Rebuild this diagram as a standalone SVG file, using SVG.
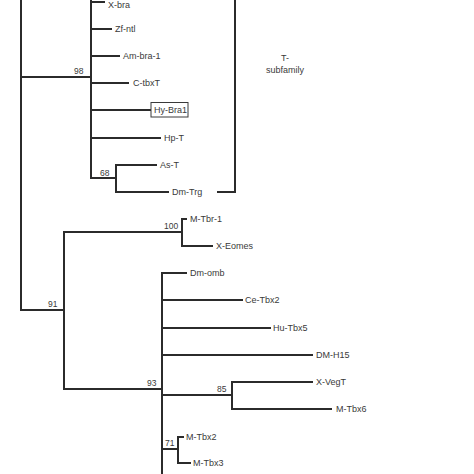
<svg xmlns="http://www.w3.org/2000/svg" width="474" height="474" viewBox="0 0 474 474">
<style>
.e{stroke:#2b2b2b;stroke-width:2;fill:none;stroke-linecap:square}
text{font-family:"Liberation Sans",Arial,sans-serif;font-size:9px;fill:#3a3a3a}
.b{font-size:8.5px}
.box{fill:#fff;stroke:#3a3a3a;stroke-width:1}
</style>
<rect width="474" height="474" fill="#fff"/>
<g id="connectors">
<path class="e" d="M21,-2V310"/>
<path class="e" d="M21,77H91"/>
<path class="e" d="M91,-2V178"/>
<path class="e" d="M91,2H104"/>
<path class="e" d="M91,29H111"/>
<path class="e" d="M91,56H119"/>
<path class="e" d="M91,83H128"/>
<path class="e" d="M91,110H150"/>
<path class="e" d="M91,138H160"/>
<path class="e" d="M91,178H116"/>
<path class="e" d="M116,165V192"/>
<path class="e" d="M116,165H156"/>
<path class="e" d="M116,192H168"/>
<path class="e" d="M218,192H235V-2"/>
<path class="e" d="M21,310H64"/>
<path class="e" d="M64,232V389"/>
<path class="e" d="M64,232H182"/>
<path class="e" d="M182,219V246"/>
<path class="e" d="M182,219H186"/>
<path class="e" d="M182,246H212"/>
<path class="e" d="M64,389H162"/>
<path class="e" d="M162,273V476"/>
<path class="e" d="M162,273H186"/>
<path class="e" d="M162,300H242"/>
<path class="e" d="M162,328H270"/>
<path class="e" d="M162,355H312"/>
<path class="e" d="M162,395H232"/>
<path class="e" d="M232,382V409"/>
<path class="e" d="M232,382H312"/>
<path class="e" d="M232,409H331"/>
<path class="e" d="M162,449H178"/>
<path class="e" d="M178,437V463"/>
<path class="e" d="M178,437H183"/>
<path class="e" d="M178,463H190"/>
</g>
<g id="support">
<text x="74" y="74" class="b">98</text>
<text x="100" y="176" class="b">68</text>
<text x="48" y="307" class="b">91</text>
<text x="164" y="229" class="b">100</text>
<text x="147" y="386" class="b">93</text>
<text x="217" y="392" class="b">85</text>
<text x="165" y="446" class="b">71</text>
</g>
<g id="X-bra"><text x="108" y="8">X-bra</text></g>
<g id="Zf-ntl"><text x="115" y="32">Zf-ntl</text></g>
<g id="Am-bra-1"><text x="123" y="59">Am-bra-1</text></g>
<g id="C-tbxT"><text x="133" y="86">C-tbxT</text></g>
<g id="Hy-Bra1"><rect class="box" x="151" y="102.5" width="37" height="14.5"/><text x="154" y="113">Hy-Bra1</text></g>
<g id="Hp-T"><text x="164" y="141">Hp-T</text></g>
<g id="As-T"><text x="160" y="168">As-T</text></g>
<g id="Dm-Trg"><text x="172" y="195">Dm-Trg</text></g>
<g id="T-subfamily"><text x="285" y="61" text-anchor="middle">T-</text><text x="285" y="73" text-anchor="middle">subfamily</text></g>
<g id="M-Tbr-1"><text x="190" y="222">M-Tbr-1</text></g>
<g id="X-Eomes"><text x="216" y="249">X-Eomes</text></g>
<g id="Dm-omb"><text x="190" y="276">Dm-omb</text></g>
<g id="Ce-Tbx2"><text x="245" y="303">Ce-Tbx2</text></g>
<g id="Hu-Tbx5"><text x="273" y="331">Hu-Tbx5</text></g>
<g id="DM-H15"><text x="316" y="358">DM-H15</text></g>
<g id="X-VegT"><text x="316" y="385">X-VegT</text></g>
<g id="M-Tbx6"><text x="336" y="412">M-Tbx6</text></g>
<g id="M-Tbx2"><text x="186" y="440">M-Tbx2</text></g>
<g id="M-Tbx3"><text x="193" y="466">M-Tbx3</text></g>
</svg>
